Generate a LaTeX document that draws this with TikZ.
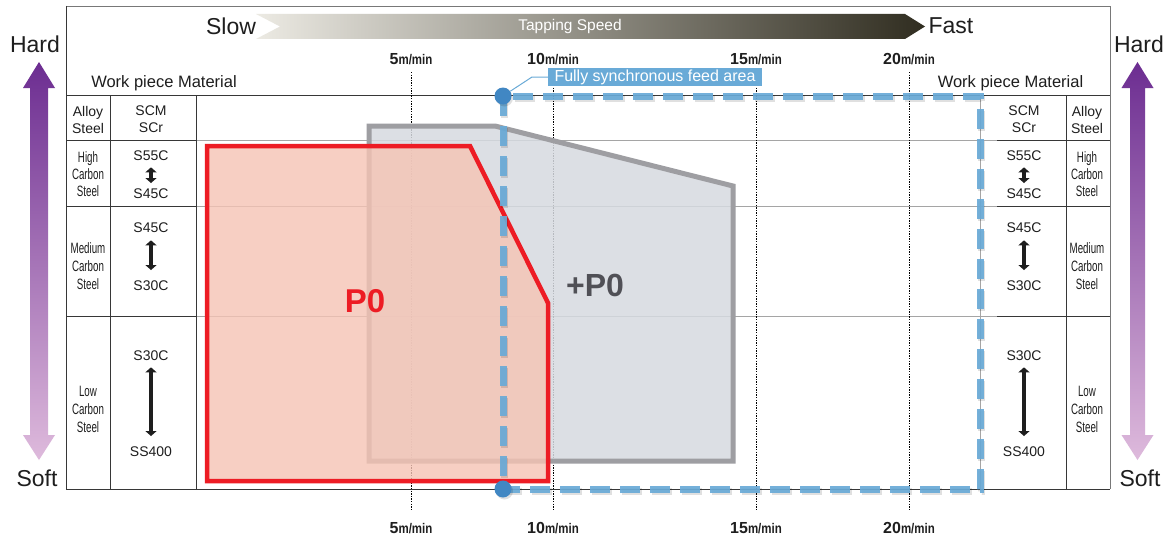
\documentclass[tikz,border=0pt]{standalone}
\usepackage{fontspec}
\setmainfont{Liberation Sans}
\usepackage{graphicx}
\usetikzlibrary{arrows.meta}
\definecolor{tblline}{RGB}{55,55,55}
\definecolor{frameline}{RGB}{120,120,120}
\definecolor{gridline}{RGB}{165,165,165}
\definecolor{tcol}{RGB}{30,30,30}
\definecolor{pzfill}{RGB}{246,196,180}
\definecolor{pzred}{RGB}{237,28,36}
\definecolor{ppfill}{RGB}{214,218,224}
\definecolor{ppline}{RGB}{158,158,162}
\definecolor{ptext}{RGB}{80,80,86}
\definecolor{syncblue}{RGB}{105,170,215}
\definecolor{dotblue}{RGB}{65,135,195}
\definecolor{purpletop}{RGB}{108,45,145}
\definecolor{purplebot}{RGB}{222,186,220}
\definecolor{barlight}{RGB}{236,234,227}
\definecolor{bardark}{RGB}{48,45,32}
\newcommand\cnd[1]{\scalebox{0.65}[1]{#1}}
\newcommand\spdlbl[1]{{\fontsize{16}{16}\selectfont\bfseries #1}{\fontsize{14}{14}\selectfont\bfseries\scalebox{0.82}[1]{m/min}}}
\begin{document}
\begin{tikzpicture}[x=1pt,y=-1pt,
  txt/.style={inner sep=0pt, anchor=base, text=tcol, font=\fontsize{14}{14}\selectfont},
  ctxt/.style={inner sep=0pt, anchor=base, text=tcol, font=\fontsize{15}{15}\selectfont},
  bigtxt/.style={inner sep=0pt, text=tcol, font=\fontsize{23}{23}\selectfont},
  wpm/.style={inner sep=0pt, text=tcol, font=\fontsize{16.5}{16.5}\selectfont},
  tick/.style={inner sep=0pt, anchor=base, text=tcol},
  tbl/.style={draw=tblline, line width=0.9pt},
  grd/.style={draw=gridline, line width=0.9pt},
  vdot/.style={draw=black, line width=0.8pt, dash pattern=on 1.3pt off 1.3pt},
  darr/.style={draw=tcol, line width=4.5pt, {Triangle[width=11pt,length=5pt]}-{Triangle[width=11pt,length=5pt]}},
  syncdash/.style={line width=7pt, dash pattern=on 20pt off 10pt, dash phase=20pt},
]
\useasboundingbox (0,0) rectangle (1172,535);
\fill[white] (0,0) rectangle (1172,535);

% ---------- speed bar ----------
\shade[left color=barlight, right color=bardark]
  (256,14) -- (905,14) -- (925,26.5) -- (905,39) -- (256,39) -- (280,26.5) -- cycle;
\node[inner sep=0pt, text=white, font=\fontsize{15.5}{15.5}\selectfont] (tspeed) at (570,26.5) {Tapping Speed};
\node[bigtxt] (slow) at (231,26) {Slow};
\node[bigtxt] (fast) at (951,26) {Fast};

% ---------- hardness arrows ----------
\shade[top color=purpletop, bottom color=purplebot]
  (39,62) -- (55,88) -- (48,88) -- (48,435) -- (55,435) -- (39,460) -- (23,435) -- (30,435) -- (30,88) -- (23,88) -- cycle;
\shade[top color=purpletop, bottom color=purplebot]
  (1137.5,62) -- (1153.5,88) -- (1145,88) -- (1145,435) -- (1153.5,435) -- (1137.5,460) -- (1121.5,435) -- (1130,435) -- (1130,88) -- (1121.5,88) -- cycle;
\node[bigtxt] (hardL) at (35,44) {Hard};
\node[bigtxt] (softL) at (37,478) {Soft};
\node[bigtxt] (hardR) at (1139,44) {Hard};
\node[bigtxt] (softR) at (1140,478) {Soft};

% ---------- grid ----------
\foreach \yy in {140,206,316} {
  \draw[grd] (196,\yy) -- (997,\yy);
  \draw[tbl] (66,\yy) -- (196,\yy);
  \draw[tbl] (997,\yy) -- (1110,\yy);
}
\draw[tbl] (66,95) -- (1110,95);
\draw[tbl] (110,95) -- (110,489);
\draw[tbl] (196,95) -- (196,489);
\draw[grd] (980,95) -- (980,489);
\draw[tbl] (1066,95) -- (1066,489);
\draw[draw=frameline, line width=0.9pt] (66,6) -- (1110,6) -- (1110,489);
\draw[tbl] (66,6) -- (66,489) -- (1110,489);

% ---------- speed ticks ----------
\foreach \xx in {411,553,756,909} \draw[vdot] (\xx,72) -- (\xx,511);
\node[tick] (t5) at (411,64) {\spdlbl{5}};
\node[tick] (t10) at (553,64) {\spdlbl{10}};
\node[tick] (t15) at (756,64) {\spdlbl{15}};
\node[tick] (t20) at (909,64) {\spdlbl{20}};
\node[tick] (b5) at (411,533) {\spdlbl{5}};
\node[tick] (b10) at (553,533) {\spdlbl{10}};
\node[tick] (b15) at (756,533) {\spdlbl{15}};
\node[tick] (b20) at (909,533) {\spdlbl{20}};

% ---------- work piece headers ----------
\node[wpm] (wpmL) at (164,83) {Work piece Material};
\node[wpm] (wpmR) at (1010.5,83) {Work piece Material};

% ---------- left table ----------
\node[txt] (la1) at (88,116) {Alloy};
\node[txt] (la2) at (88,133) {Steel};
\node[txt] (lscm) at (151,115) {SCM};
\node[txt] (lscr) at (151,132) {SCr};
\node[ctxt] (lh1) at (88,162) {\cnd{High}};
\node[ctxt] (lh2) at (88,179) {\cnd{Carbon}};
\node[ctxt] (lh3) at (88,196) {\cnd{Steel}};
\node[txt] (ls55) at (151,160) {S55C};
\node[txt] (ls45a) at (151,198) {S45C};
\draw[darr, shorten <=7pt, shorten >=5pt] (ls55.south) -- (ls45a.north);
\node[ctxt] (lm1) at (88,253) {\cnd{Medium}};
\node[ctxt] (lm2) at (88,271) {\cnd{Carbon}};
\node[ctxt] (lm3) at (88,289) {\cnd{Steel}};
\node[txt] (ls45b) at (151,232) {S45C};
\node[txt] (ls30a) at (151,290) {S30C};
\draw[darr, shorten <=8pt, shorten >=10pt] (ls45b.south) -- (ls30a.north);
\node[ctxt] (ll1) at (88,396) {\cnd{Low}};
\node[ctxt] (ll2) at (88,414) {\cnd{Carbon}};
\node[ctxt] (ll3) at (88,432) {\cnd{Steel}};
\node[txt] (ls30b) at (151,360) {S30C};
\node[txt] (lss) at (151,456) {SS400};
\draw[darr, shorten <=7pt, shorten >=10pt] (ls30b.south) -- (lss.north);

% ---------- right table ----------
\node[txt] (ra1) at (1087,116) {Alloy};
\node[txt] (ra2) at (1087,133) {Steel};
\node[txt] (rscm) at (1024,115) {SCM};
\node[txt] (rscr) at (1024,132) {SCr};
\node[ctxt] (rh1) at (1087,162) {\cnd{High}};
\node[ctxt] (rh2) at (1087,179) {\cnd{Carbon}};
\node[ctxt] (rh3) at (1087,196) {\cnd{Steel}};
\node[txt] (rs55) at (1024,160) {S55C};
\node[txt] (rs45a) at (1024,198) {S45C};
\draw[darr, shorten <=7pt, shorten >=5pt] (rs55.south) -- (rs45a.north);
\node[ctxt] (rm1) at (1087,253) {\cnd{Medium}};
\node[ctxt] (rm2) at (1087,271) {\cnd{Carbon}};
\node[ctxt] (rm3) at (1087,289) {\cnd{Steel}};
\node[txt] (rs45b) at (1024,232) {S45C};
\node[txt] (rs30a) at (1024,290) {S30C};
\draw[darr, shorten <=8pt, shorten >=10pt] (rs45b.south) -- (rs30a.north);
\node[ctxt] (rl1) at (1087,396) {\cnd{Low}};
\node[ctxt] (rl2) at (1087,414) {\cnd{Carbon}};
\node[ctxt] (rl3) at (1087,432) {\cnd{Steel}};
\node[txt] (rs30b) at (1024,360) {S30C};
\node[txt] (rss) at (1024,456) {SS400};
\draw[darr, shorten <=7pt, shorten >=10pt] (rs30b.south) -- (rss.north);

% ---------- +P0 region ----------
\fill[ppfill, fill opacity=0.85] (369,126) -- (495,126) -- (733,186) -- (733,461) -- (369,461) -- cycle;
\draw[ppline, line width=5pt] (369,126) -- (495,126) -- (733,186) -- (733,461) -- (369,461) -- cycle;
\node[inner sep=0pt, text=ptext, font=\fontsize{32}{32}\selectfont\bfseries] (pp) at (595,285) {+P0};

% ---------- P0 region ----------
\fill[pzfill, fill opacity=0.8] (207,146) -- (470,146) -- (548,303) -- (548,481) -- (207,481) -- cycle;
\draw[pzred, line width=4.5pt] (207,146) -- (470,146) -- (548,303) -- (548,481) -- (207,481) -- cycle;
\node[inner sep=0pt, text=pzred, font=\fontsize{33}{33}\selectfont\bfseries] (pz) at (365,301) {P0};

% ---------- fully synchronous feed area ----------
\draw[black, draw opacity=0.12, syncdash, shift={(1.5,2)}]
  (503,96) -- (980,96) -- (980,489) -- (503,489) -- cycle;
\draw[syncblue, draw opacity=0.92, syncdash]
  (503,96) -- (980,96) -- (980,489) -- (503,489) -- cycle;
\fill[black, opacity=0.12] (504.5,98) circle (8.5);
\fill[black, opacity=0.12] (504.5,491) circle (8.5);
\node[circle, fill=dotblue, inner sep=0pt, minimum size=17pt] (dotT) at (503,96) {};
\node[circle, fill=dotblue, inner sep=0pt, minimum size=17pt] (dotB) at (503,489) {};
\node[fill=syncblue, text=white, inner sep=0pt, minimum width=214pt, minimum height=18pt,
  font=\fontsize{16}{16}\selectfont] (lbl) at (655,77) {Fully synchronous feed area};
\coordinate (bend) at (532,77);
\draw[syncblue, line width=1pt] (dotT) -- (bend) -- (lbl.west);
\end{tikzpicture}
\end{document}
